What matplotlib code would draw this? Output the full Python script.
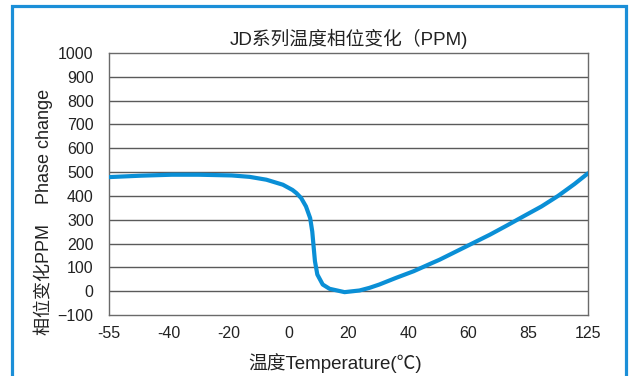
import matplotlib
matplotlib.use("Agg")
import matplotlib.pyplot as plt
from matplotlib.patches import Rectangle
import numpy as np

# tick temperatures (evenly spaced on the chart, not linear in value)
tick_temps = [-55, -40, -20, 0, 20, 40, 60, 85, 125]
tick_labels = ["-55", "-40", "-20", "0", "20", "40", "60", "85", "125"]

# curve
temps = [-55, -47, -39, -30, -19, -13, -7.4, -1.9, 1.3, 2.6, 4.2, 5.8, 7.2,
         7.9, 8.3, 8.8, 9.6, 11.4, 13.7, 18.7, 23.7, 27, 30.3, 35.9, 41.8,
         47.5, 50.4, 56, 62, 69, 76, 83, 94, 105, 116, 125]
phase = [479, 485, 489, 489, 486, 480, 468, 447, 425, 412, 391, 356, 307,
         251, 195, 126, 70, 28, 10, -4, 3, 14, 28, 56, 84,
         116, 132, 167, 202, 237, 275, 314, 356, 400, 450, 495]

fonts = ['Liberation Sans', 'Noto Sans CJK SC']
plt.rcParams['font.family'] = fonts

pos = np.arange(len(tick_temps))


def fwd(x):
    return np.interp(x, tick_temps, pos)


def inv(x):
    return np.interp(x, pos, tick_temps)


fig = plt.figure(figsize=(6.31, 3.76), dpi=100)
ax = fig.add_axes([0.1727, 0.1622, 0.7591, 0.6968])

ax.set_xscale('function', functions=(fwd, inv))
ax.plot(temps, phase, color='#0a8fd6', lw=3.0, solid_capstyle='round',
        solid_joinstyle='round', zorder=3)

ax.set_xlim(-55, 125)
ax.set_ylim(-100, 1000)
ax.set_xticks(tick_temps)
ax.set_xticklabels(tick_labels)
ax.set_yticks(range(-100, 1001, 100))
ax.tick_params(length=0, labelsize=11.5, colors='#222222')
ax.tick_params(axis='y', pad=11)
ax.tick_params(axis='x', pad=8)
ax.minorticks_off()

for v in range(0, 1000, 100):
    ax.axhline(v, color='#5a5a5a', lw=1.0, zorder=1)
for s in ax.spines.values():
    s.set_color('#6a6a6a')
    s.set_linewidth(1.0)

ax.set_title("JD系列温度相位变化（PPM)", fontsize=13.5, pad=6, color='#222222')
fig.text(335 / 631, 1 - 363 / 376, "温度Temperature(℃)", fontsize=13.5,
         ha='center', va='center', color='#222222')
fig.text(43 / 631, 1 - 212 / 376, "相位变化PPM    Phase change", fontsize=13,
         rotation=90, ha='center', va='center', color='#222222')

# blue border around the panel
fig.patches.append(Rectangle((12 / 631, -0.05), 614 / 631, 1.05 - 6 / 376,
                             transform=fig.transFigure, fill=False,
                             edgecolor='#1b8fd8', lw=2.3))

fig.savefig("out.png", dpi=100)
